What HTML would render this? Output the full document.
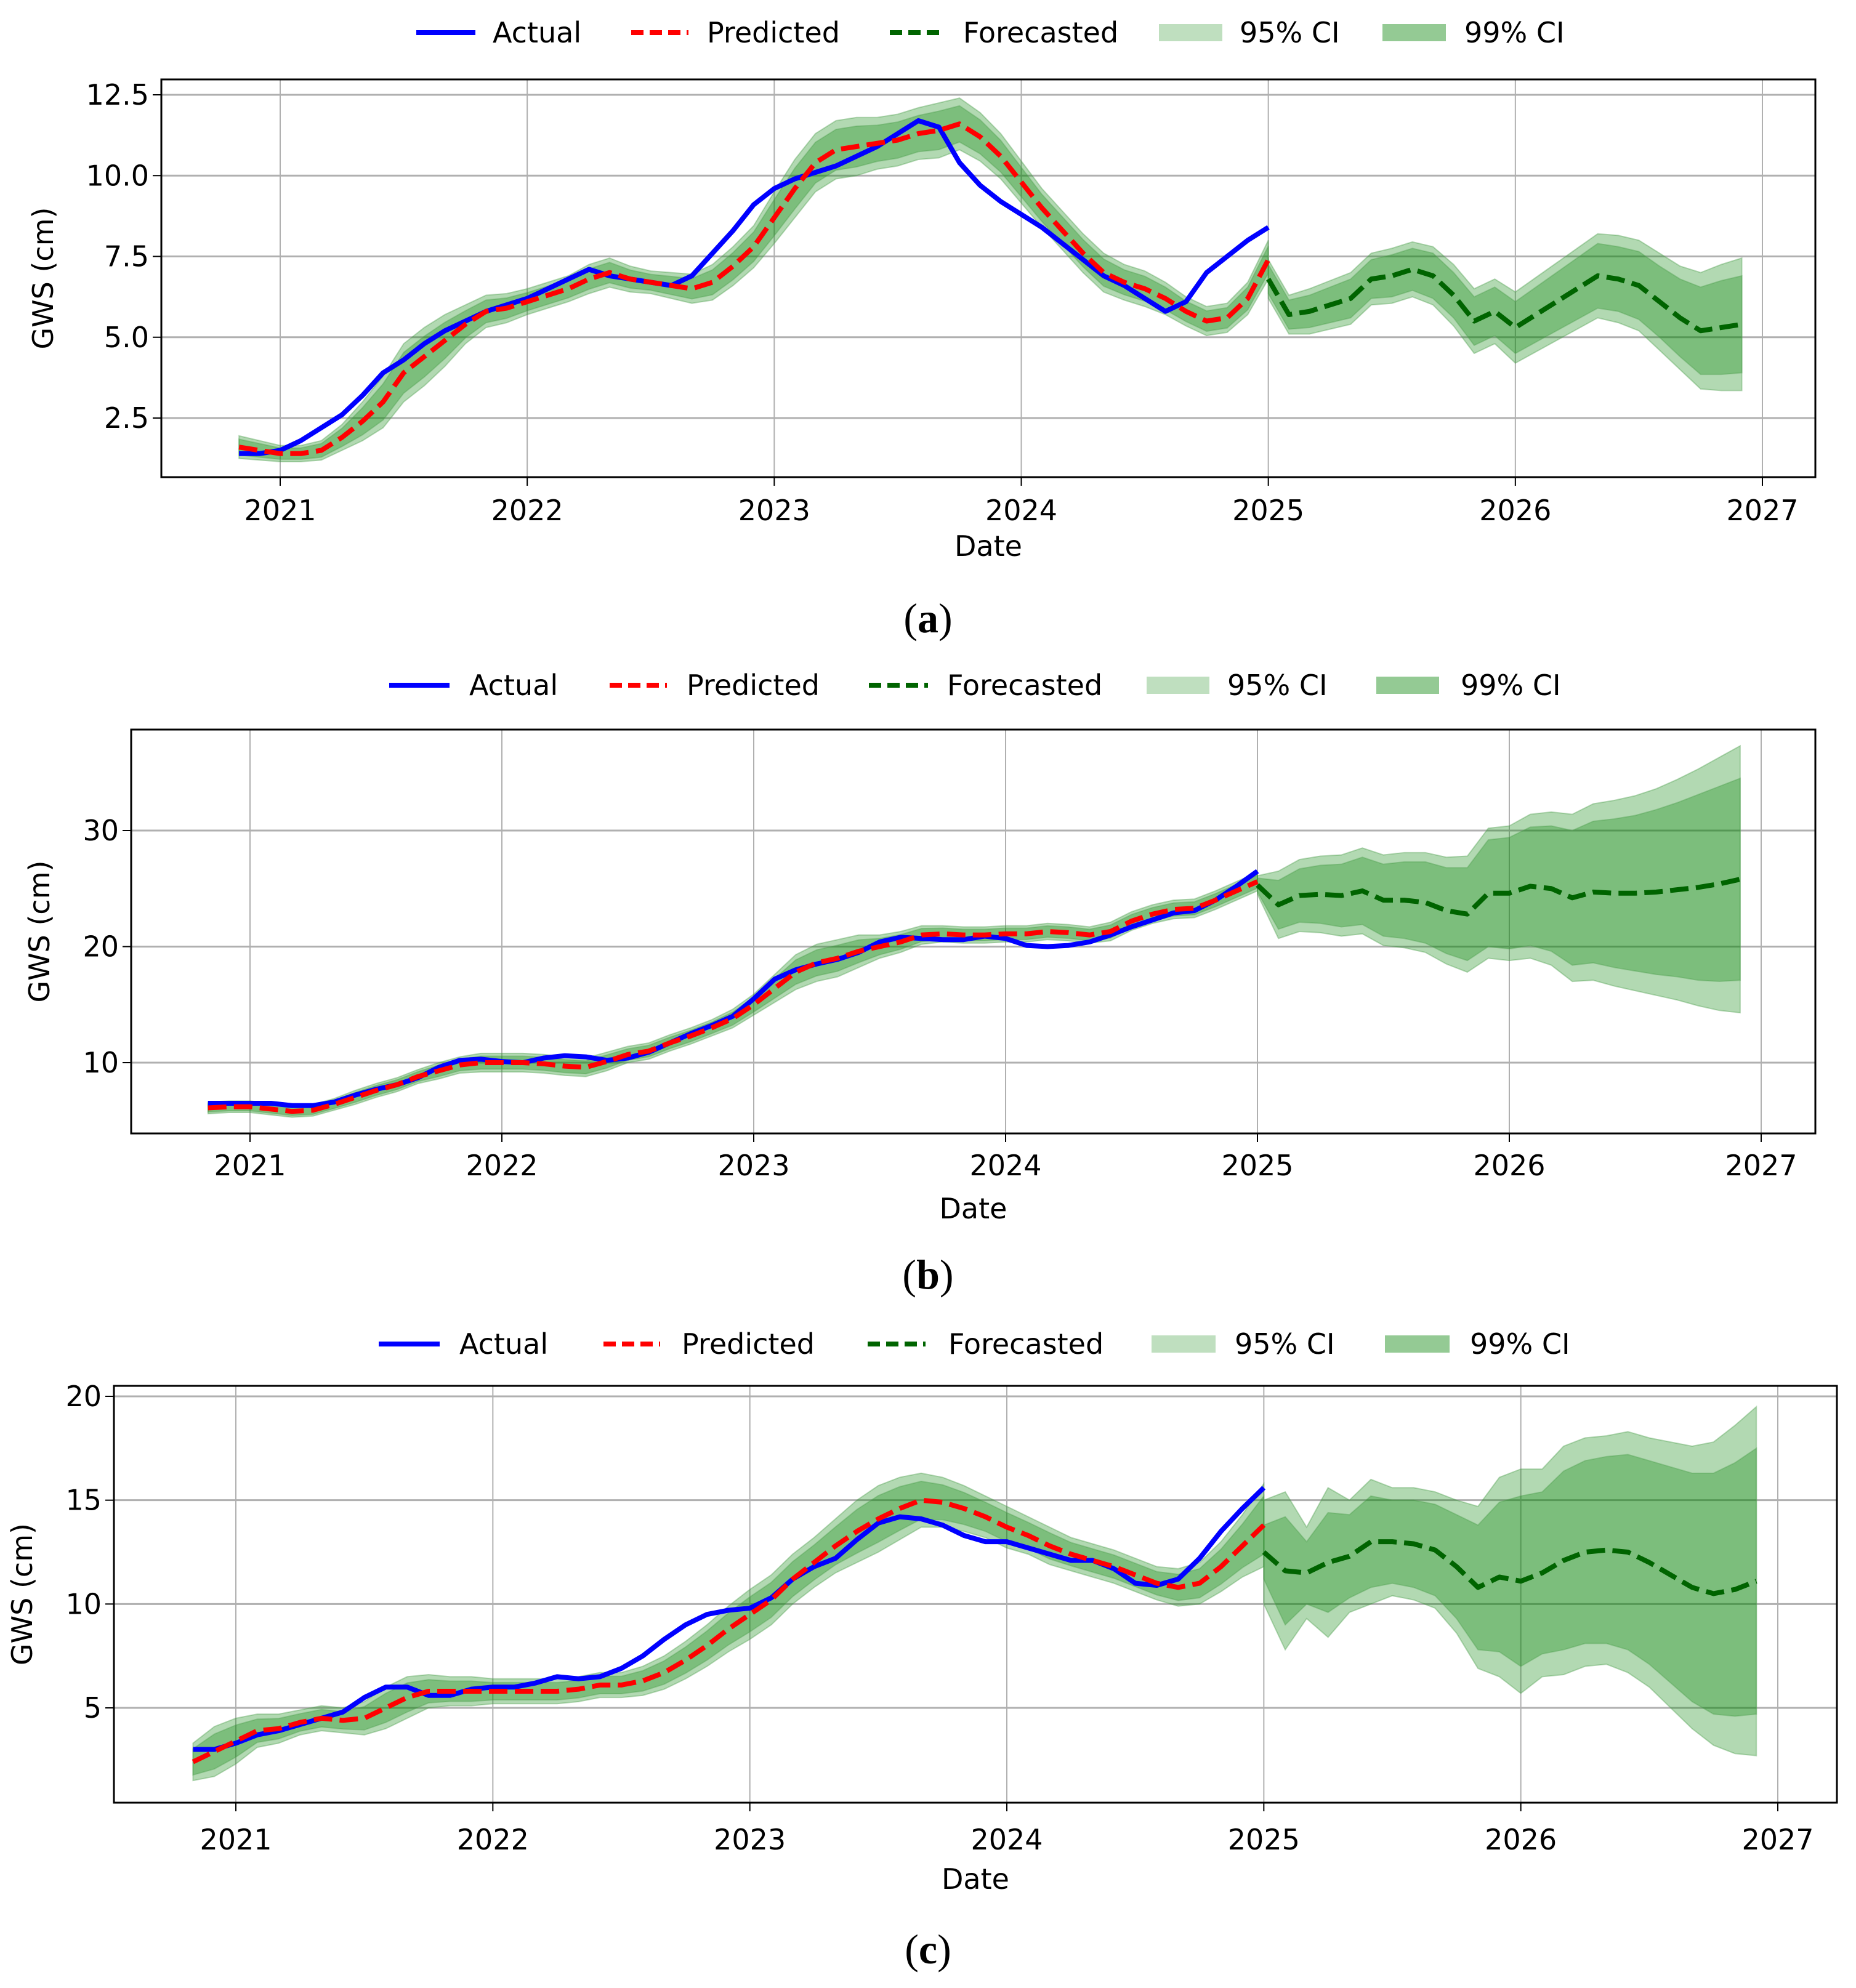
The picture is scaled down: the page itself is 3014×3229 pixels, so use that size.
<!DOCTYPE html>
<html><head><meta charset="utf-8"><style>
html,body{margin:0;padding:0;background:#fff;}
svg{display:block;}
text{font-family:"DejaVu Sans","Liberation Sans",sans-serif;fill:#000;}
.cap{font-family:"Liberation Serif",serif;}
</style></head><body>
<svg id="fig" width="3014" height="3229" viewBox="0 0 3014 3229" xmlns="http://www.w3.org/2000/svg"></svg>
<script>
// ---- Panel (a) data ----
const aActual=[1.4,1.4, 1.5,1.8,2.2,2.6,3.2,3.9,4.3,4.8,5.2,5.5,5.8,6.0, 6.2,6.5,6.8,7.1,6.9,6.8,6.7,6.6,6.9,7.6,8.3,9.1, 9.6,9.9,10.1,10.3,10.6,10.9,11.3,11.7,11.5,10.4,9.7,9.2, 8.8,8.4,7.9,7.4,6.9,6.6,6.2,5.8,6.1,7.0,7.5,8.0, 8.4];
const aPred=[1.6,1.5, 1.4,1.4,1.5,1.9,2.4,3.0,3.9,4.4,4.9,5.4,5.8,5.9, 6.1,6.3,6.5,6.8,7.0,6.8,6.7,6.6,6.5,6.7,7.2,7.8, 8.7,9.6,10.4,10.8,10.9,11.0,11.1,11.3,11.4,11.6,11.2,10.6, 9.8,9.0,8.3,7.6,7.0,6.7,6.5,6.2,5.8,5.5,5.6,6.2, 7.4];
const aHistBand=[0.35,0.3, 0.25,0.25,0.3,0.4,0.6,0.8,0.9,0.9,0.8,0.6,0.5,0.45, 0.4,0.4,0.4,0.45,0.45,0.4,0.35,0.4,0.45,0.55,0.6,0.65, 0.8,0.9,0.9,0.9,0.9,0.8,0.8,0.8,0.85,0.8,0.75,0.7, 0.65,0.6,0.6,0.6,0.6,0.55,0.55,0.5,0.45,0.45,0.45,0.5, 0.6];
const aFore=[6.8,5.7,5.8,6.0,6.2,6.8,6.9,7.1,6.9,6.3,5.5,5.8, 5.3,5.7,6.1,6.5,6.9,6.8,6.6,6.1,5.6,5.2,5.3,5.4];
const aFore95=[0.6,0.6,0.7,0.75,0.8,0.8,0.85,0.85,0.9,0.95,1.0,1.0,1.1,1.15,1.2,1.25,1.3,1.35,1.4,1.5,1.6,1.8,1.95,2.05];
const aFore99=[0.45,0.45,0.5,0.55,0.6,0.6,0.65,0.65,0.7,0.7,0.75,0.75,0.8,0.85,0.9,0.95,1.0,1.0,1.05,1.1,1.2,1.35,1.45,1.5];
const aYTicks=[2.5,5.0,7.5,10.0,12.5];
const aYLabels=["2.5","5.0","7.5","10.0","12.5"];
// ---- Panel (b) data ----
const bActual=[6.5,6.5, 6.5,6.5,6.3,6.3,6.6,7.2,7.7,8.1,8.7,9.6,10.2,10.3, 10.1,10.0,10.4,10.6,10.5,10.2,10.4,10.9,11.7,12.5,13.2,14.0, 15.5,17.2,18.0,18.5,18.9,19.5,20.4,20.8,20.7,20.6,20.6,20.9, 20.7,20.1,20.0,20.1,20.4,21.0,21.7,22.3,22.9,23.1,24.0,25.2, 26.5];
const bPred=[6.1,6.2, 6.2,6.0,5.8,5.9,6.4,7.0,7.6,8.1,8.8,9.3,9.8,10.0, 10.0,10.0,9.9,9.7,9.6,10.1,10.7,11.0,11.7,12.3,13.0,13.8, 15.0,16.4,17.8,18.6,19.0,19.6,20.0,20.4,21.0,21.1,21.0,21.0, 21.1,21.1,21.3,21.2,21.0,21.3,22.2,22.8,23.2,23.3,24.0,24.8, 25.6];
const bHistBand=[0.5,0.5, 0.5,0.5,0.5,0.5,0.5,0.6,0.6,0.6,0.6,0.7,0.7,0.8, 0.8,0.8,0.8,0.8,0.8,0.8,0.7,0.7,0.7,0.7,0.7,0.8, 0.9,1.2,1.5,1.6,1.6,1.4,1.0,0.9,0.8,0.7,0.7,0.7, 0.7,0.7,0.7,0.7,0.7,0.8,0.8,0.8,0.8,0.8,0.8,0.8, 0.8];
const bFore=[25.3,23.6,24.4,24.5,24.4,24.8,24.0,24.0,23.8,23.1,22.8,24.6, 24.6,25.2,25.0,24.2,24.7,24.6,24.6,24.7,24.9,25.1,25.4,25.8];
const bFore95=[0.8,2.9,3.1,3.3,3.5,3.7,3.9,4.1,4.3,4.6,5.0,5.6,5.8,6.2,6.6,7.2,7.6,8.0,8.4,8.9,9.5,10.2,10.9,11.5];
const bFore99=[0.6,2.1,2.3,2.5,2.7,2.9,3.1,3.3,3.5,3.7,4.0,4.6,4.8,5.1,5.4,5.8,6.1,6.4,6.7,7.1,7.5,8.0,8.4,8.7];
const bYTicks=[10,20,30];
const bYLabels=["10","20","30"];
// ---- Panel (c) data ----
const cActual=[3.0,3.0, 3.3,3.7,3.9,4.2,4.5,4.8,5.5,6.0,6.0,5.6,5.6,5.9, 6.0,6.0,6.2,6.5,6.4,6.5,6.9,7.5,8.3,9.0,9.5,9.7, 9.8,10.3,11.2,11.8,12.2,13.1,13.9,14.2,14.1,13.8,13.3,13.0, 13.0,12.7,12.4,12.1,12.1,11.7,11.0,10.9,11.2,12.2,13.5,14.6, 15.6];
const cPred=[2.4,2.9, 3.4,3.9,4.0,4.3,4.5,4.4,4.5,5.0,5.5,5.8,5.8,5.8, 5.8,5.8,5.8,5.8,5.9,6.1,6.1,6.3,6.7,7.3,8.0,8.8, 9.5,10.2,11.2,12.0,12.8,13.5,14.1,14.6,15.0,14.9,14.6,14.2, 13.7,13.3,12.8,12.4,12.1,11.8,11.4,11.0,10.8,11.0,11.8,12.8, 13.8];
const cHistBand=[0.9,1.2, 1.1,0.8,0.7,0.6,0.6,0.6,0.8,1.0,1.0,0.8,0.7,0.7, 0.6,0.6,0.6,0.6,0.6,0.6,0.6,0.7,0.8,0.9,1.0,1.1, 1.2,1.2,1.2,1.2,1.3,1.5,1.6,1.5,1.3,1.2,1.1,1.0, 1.0,0.9,0.9,0.8,0.8,0.8,0.8,0.8,0.9,1.0,1.2,1.5, 2.0];
const cFore=[12.5,11.6,11.5,12.0,12.3,13.0,13.0,12.9,12.6,11.8,10.8,11.3, 11.1,11.5,12.1,12.5,12.6,12.5,12.0,11.4,10.8,10.5,10.7,11.1];
const cFore95=[2.5,3.8,2.2,3.6,2.7,3.0,2.6,2.7,2.8,3.2,3.9,4.8,5.4,5.0,5.5,5.5,5.5,5.8,6.0,6.4,6.8,7.3,7.9,8.4];
const cFore99=[1.3,2.6,1.5,2.4,2.0,2.2,2.0,2.1,2.2,2.5,3.0,3.6,4.1,3.9,4.3,4.4,4.5,4.7,4.9,5.2,5.5,5.8,6.1,6.4];
const cYTicks=[5,10,15,20];
const cYLabels=["5","10","15","20"];
// shared
const xTickYears=[2021,2022,2023,2024,2025,2026,2027];
const xTickLabels=["2021","2022","2023","2024","2025","2026","2027"];
const histStart=2020+10/12;   // Nov 2020
const foreStart=2025.0;
const legendLabels=["Actual","Predicted","Forecasted","95% CI","99% CI"];

const NS="http://www.w3.org/2000/svg";
const svg=document.getElementById('fig');
function mk(tag,attrs,parent){const e=document.createElementNS(NS,tag);for(const k in attrs)e.setAttribute(k,attrs[k]);(parent||svg).appendChild(e);return e;}

const panels=[
 {id:'a',cap:'a',actual:aActual,pred:aPred,hb:aHistBand,fore:aFore,f95:aFore95,f99:aFore99,yt:aYTicks,yl:aYLabels,
  L:262,R:2948,T:129,B:775,x0:2021,px0:455,x1:2027,px1:2862,y0:2.5,py0:679,y1:12.5,py1:154,
  legY:53,leg:[[676,772,800],[1025,1118,1148],[1445,1534,1564],[1882,1985,2013],[2245,2348,2378]],yLabX:86,tickDy:70,dateY:903,capY:1027,capX:1507},
 {id:'b',cap:'b',actual:bActual,pred:bPred,hb:bHistBand,fore:bFore,f95:bFore95,f99:bFore99,yt:bYTicks,yl:bYLabels,
  L:213,R:2948,T:1185,B:1841,x0:2021,px0:406,x1:2027,px1:2860,y0:10,py0:1726,y1:30,py1:1349,
  legY:1113,leg:[[632,730,762],[990,1083,1115],[1411,1507,1538],[1862,1964,1993],[2235,2337,2372]],yLabX:80,tickDy:68,dateY:1979,capY:2093,capX:1507},
 {id:'c',cap:'c',actual:cActual,pred:cPred,hb:cHistBand,fore:cFore,f95:cFore95,f99:cFore99,yt:cYTicks,yl:cYLabels,
  L:185,R:2983,T:2251,B:2928,x0:2021,px0:383,x1:2027,px1:2887,y0:5,py0:2774,y1:20,py1:2268,
  legY:2183,leg:[[615,714,746],[980,1072,1107],[1409,1503,1540],[1870,1974,2005],[2249,2354,2387]],yLabX:52,tickDy:76,dateY:3068,capY:3189,capX:1507}
];

panels.forEach(p=>{
  const sx=v=>p.px0+(v-p.x0)*(p.px1-p.px0)/(p.x1-p.x0);
  const sy=v=>p.py0+(v-p.y0)*(p.py1-p.py0)/(p.y1-p.y0);
  const g=mk('g',{});
  
  
  const clipId='clip'+p.id;
  const cp=mk('clipPath',{id:clipId},g);mk('rect',{x:p.L,y:p.T,width:p.R-p.L,height:p.B-p.T},cp);
  xTickYears.forEach((yr,i)=>{
    const x=sx(yr);
    const gl=mk('line',{x1:x,x2:x,y1:p.T,y2:p.B,stroke:'#b0b0b0','stroke-width':2},g);
    
    mk('line',{x1:x,x2:x,y1:p.B,y2:p.B+14,stroke:'#000','stroke-width':2},g);
    const t=mk('text',{x:x,y:p.B+p.tickDy,'text-anchor':'middle','font-size':46},g);t.textContent=xTickLabels[i];
    
  });
  p.yt.forEach((v,i)=>{
    const y=sy(v);
    const gl=mk('line',{x1:p.L,x2:p.R,y1:y,y2:y,stroke:'#b0b0b0','stroke-width':3},g);
    
    mk('line',{x1:p.L-14,x2:p.L,y1:y,y2:y,stroke:'#000','stroke-width':2},g);
    const t=mk('text',{x:p.L-20,y:y+16,'text-anchor':'end','font-size':46},g);t.textContent=p.yl[i];
    
  });
  const data=mk('g',{'clip-path':'url(#'+clipId+')'},g);
  const hx=i=>histStart+i/12, fx=i=>foreStart+i/12;
  function band(xf,center,half,scale,fill,name){
    let up=[],lo=[];
    center.forEach((c,i)=>{up.push(sx(xf(i))+','+sy(c+half[i]*scale));lo.unshift(sx(xf(i))+','+sy(c-half[i]*scale));});
    const e=mk('polygon',{points:up.concat(lo).join(' '),fill:fill,stroke:'#4f9f4f','stroke-opacity':0.4,'stroke-width':2},data);
    
  }
  band(hx,p.pred,p.hb,1,'rgba(0,128,0,0.3)','ci95-band-history');
  band(hx,p.pred,p.hb,0.7,'rgba(0,128,0,0.3)','ci99-band-history');
  band(fx,p.fore,p.f95,1,'rgba(0,128,0,0.3)','ci95-band-forecast');
  band(fx,p.fore,p.f99,1,'rgba(0,128,0,0.3)','ci99-band-forecast');
  function line(xf,vals,stroke,dash,name){
    const pts=vals.map((v,i)=>sx(xf(i))+','+sy(v)).join(' ');
    const a={points:pts,fill:'none',stroke:stroke,'stroke-width':8,'stroke-linejoin':'round'};
    if(dash)a['stroke-dasharray']=dash;
    const e=mk('polyline',a,data);
    
  }
  line(hx,p.actual,'#0000ff',null,'actual-line');
  line(hx,p.pred,'#ff0000','30 12','predicted-line');
  line(fx,p.fore,'#006400','30 12','forecasted-line');
  const fr=mk('rect',{x:p.L,y:p.T,width:p.R-p.L,height:p.B-p.T,fill:'none',stroke:'#000','stroke-width':3},g);
  
  const yl=mk('text',{x:p.yLabX,y:(p.T+p.B)/2,'text-anchor':'middle','font-size':46,transform:'rotate(-90 '+p.yLabX+' '+(p.T+p.B)/2+')'},g);
  yl.textContent='GWS (cm)';
  const dl=mk('text',{x:(p.L+p.R)/2,y:p.dateY,'text-anchor':'middle','font-size':46},g);
  dl.textContent='Date';
  const cap=mk('text',{x:p.capX,y:p.capY,'text-anchor':'middle','font-size':68,'class':'cap'},g);
  cap.innerHTML='(<tspan font-weight="bold">'+p.cap+'</tspan>)';
  
  const lg=mk('g',{},g);
  
  const styles=[['#0000ff',null],['#ff0000','20 10'],['#006400','20 10'],['rgba(0,128,0,0.25)','patch'],['rgba(0,128,0,0.42)','patch']];
  p.leg.forEach((l,i)=>{
    const it=mk('g',{},lg);
    
    if(styles[i][1]==='patch'){mk('rect',{x:l[0],y:p.legY-14,width:l[1]-l[0],height:28,fill:styles[i][0]},it);}
    else{const a={x1:l[0],x2:l[1],y1:p.legY,y2:p.legY,stroke:styles[i][0],'stroke-width':8};if(styles[i][1])a['stroke-dasharray']=styles[i][1];mk('line',a,it);}
    const t=mk('text',{x:l[2],y:p.legY+16,'font-size':46},it);t.textContent=legendLabels[i];
  });
});
</script>
</body></html>
